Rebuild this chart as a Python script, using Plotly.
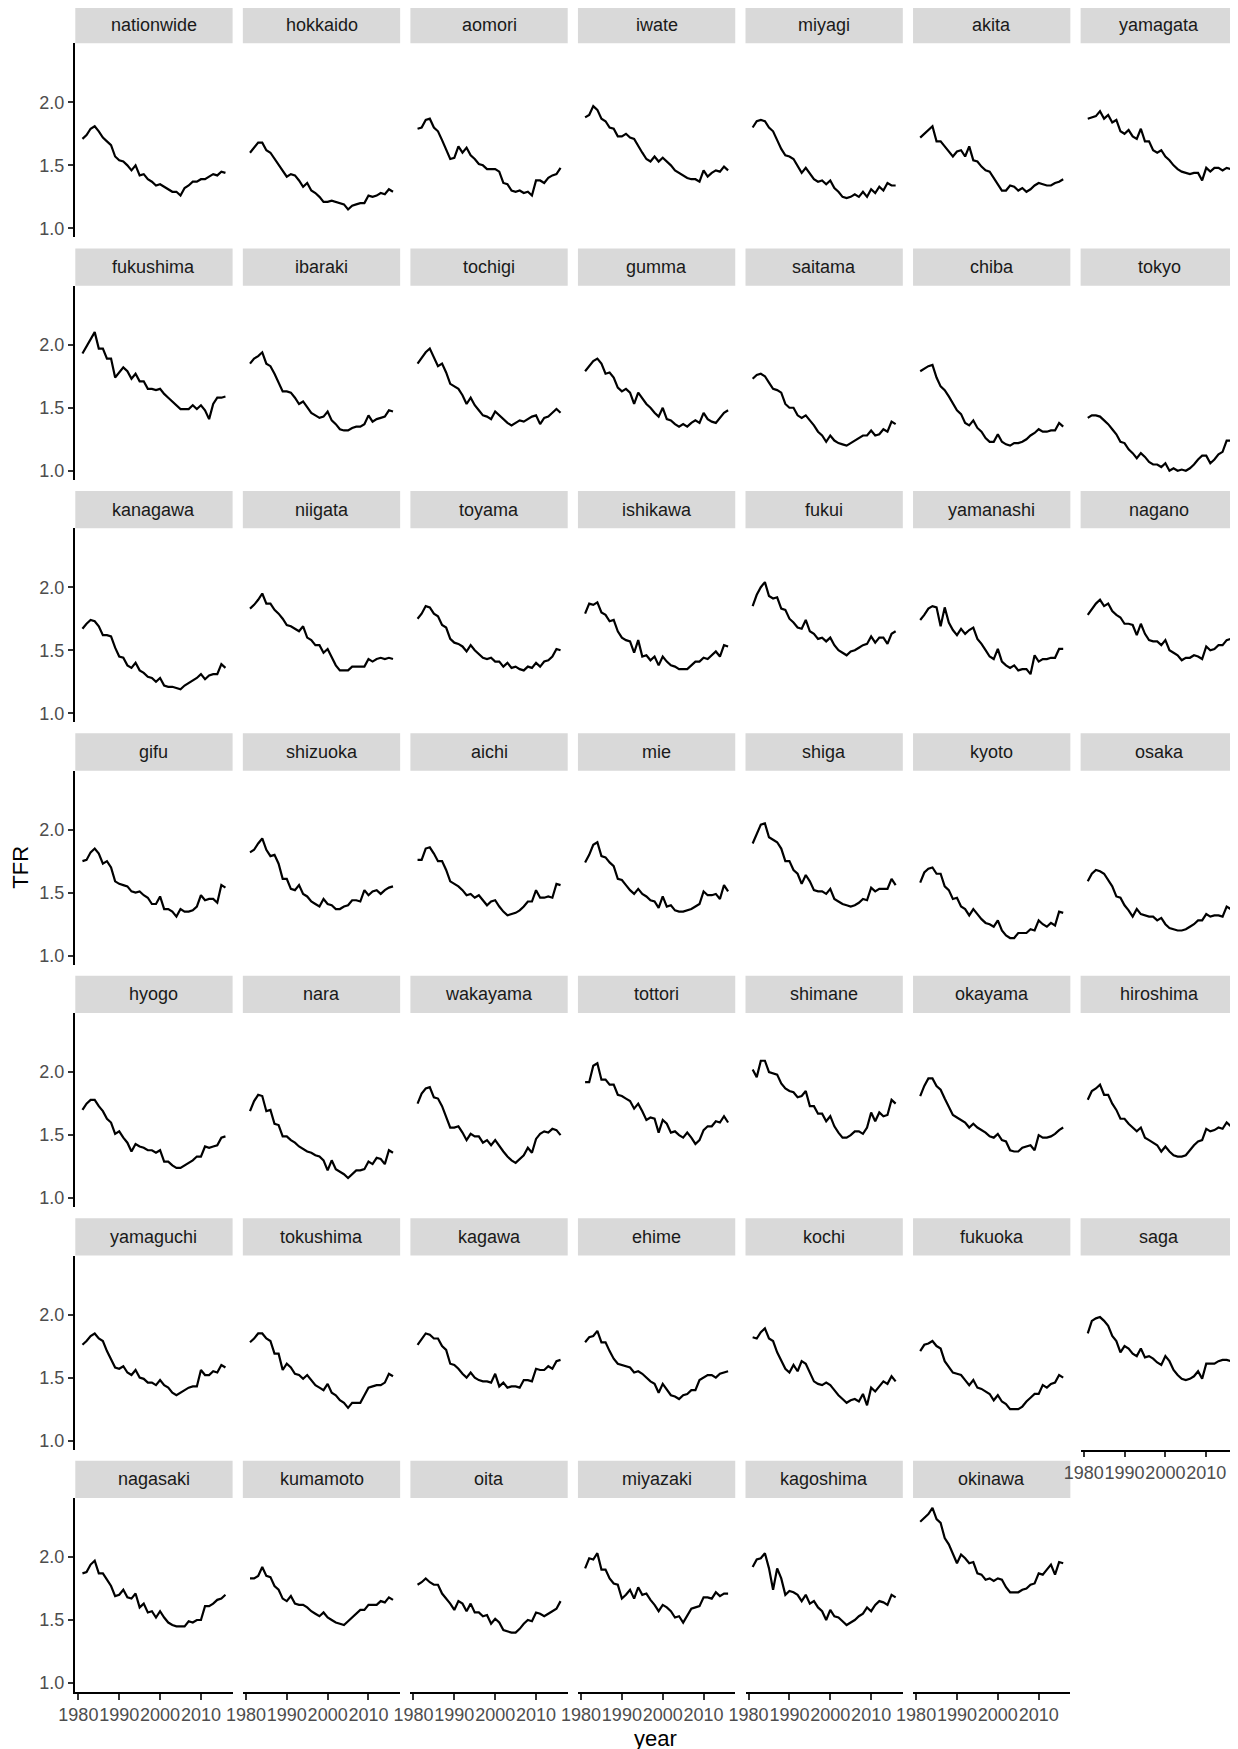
import plotly.graph_objects as go

years = list(range(1981, 2017))
x_ticks = [1980, 1990, 2000, 2010]
y_ticks = [1.0, 1.5, 2.0]
y_tick_text = ["1.0", "1.5", "2.0"]

nationwide = [1.71,1.74,1.79,1.81,1.77,1.72,1.69,1.66,1.57,1.54, 1.53,1.50,1.46,1.50,1.42,1.43,1.39,1.37,1.34,1.35, 1.33,1.31,1.29,1.29,1.26,1.32,1.34,1.37,1.37,1.39, 1.39,1.41,1.43,1.42,1.45,1.44]
hokkaido = [1.60,1.64,1.68,1.68,1.62,1.60,1.55,1.51,1.45,1.41, 1.43,1.42,1.38,1.33,1.36,1.30,1.28,1.25,1.21,1.21, 1.22,1.21,1.20,1.19,1.15,1.18,1.19,1.20,1.20,1.26, 1.25,1.26,1.28,1.27,1.31,1.29]
aomori = [1.79,1.80,1.86,1.87,1.80,1.77,1.70,1.62,1.55,1.56, 1.65,1.60,1.64,1.58,1.55,1.51,1.50,1.47,1.47,1.47, 1.45,1.36,1.35,1.30,1.29,1.30,1.28,1.29,1.26,1.38, 1.38,1.36,1.40,1.42,1.43,1.48]
iwate = [1.88,1.90,1.97,1.94,1.87,1.85,1.80,1.79,1.73,1.73, 1.75,1.72,1.71,1.65,1.60,1.55,1.53,1.57,1.53,1.56, 1.53,1.50,1.46,1.44,1.42,1.40,1.39,1.39,1.37,1.46, 1.41,1.44,1.46,1.45,1.49,1.46]
miyagi = [1.80,1.85,1.86,1.85,1.80,1.77,1.70,1.63,1.58,1.57, 1.55,1.50,1.44,1.48,1.43,1.39,1.37,1.38,1.35,1.38, 1.32,1.29,1.25,1.24,1.25,1.27,1.25,1.29,1.25,1.31, 1.28,1.33,1.30,1.36,1.34,1.34]
akita = [1.72,1.75,1.78,1.81,1.69,1.69,1.65,1.61,1.57,1.61, 1.62,1.57,1.65,1.54,1.53,1.49,1.46,1.45,1.40,1.34, 1.30,1.30,1.34,1.33,1.30,1.32,1.29,1.31,1.34,1.36, 1.35,1.34,1.34,1.36,1.37,1.39]
yamagata = [1.87,1.88,1.89,1.93,1.87,1.90,1.84,1.86,1.77,1.75, 1.78,1.73,1.71,1.79,1.69,1.69,1.62,1.60,1.62,1.57, 1.54,1.50,1.47,1.45,1.44,1.43,1.44,1.44,1.38,1.48, 1.45,1.48,1.48,1.46,1.48,1.47]
fukushima = [1.93,1.99,2.04,2.10,1.97,1.97,1.89,1.89,1.74,1.78, 1.82,1.79,1.73,1.77,1.71,1.71,1.65,1.65,1.64,1.65, 1.61,1.58,1.55,1.52,1.49,1.49,1.49,1.52,1.49,1.52, 1.48,1.41,1.53,1.58,1.58,1.59]
ibaraki = [1.85,1.89,1.91,1.94,1.85,1.83,1.77,1.70,1.63,1.63, 1.62,1.58,1.53,1.55,1.50,1.46,1.44,1.42,1.43,1.47, 1.40,1.37,1.33,1.32,1.32,1.34,1.35,1.35,1.37,1.44, 1.39,1.41,1.42,1.43,1.48,1.47]
tochigi = [1.85,1.90,1.94,1.97,1.90,1.83,1.85,1.78,1.69,1.67, 1.65,1.60,1.53,1.58,1.52,1.48,1.44,1.43,1.41,1.47, 1.44,1.41,1.38,1.36,1.38,1.40,1.39,1.41,1.43,1.44, 1.37,1.42,1.43,1.46,1.49,1.46]
gumma = [1.79,1.83,1.87,1.89,1.85,1.77,1.78,1.74,1.66,1.63, 1.65,1.62,1.53,1.62,1.57,1.53,1.50,1.46,1.43,1.50, 1.41,1.40,1.37,1.35,1.37,1.35,1.38,1.40,1.38,1.46, 1.41,1.39,1.38,1.42,1.46,1.48]
saitama = [1.73,1.76,1.77,1.75,1.70,1.65,1.64,1.62,1.53,1.50, 1.50,1.44,1.42,1.44,1.40,1.36,1.31,1.28,1.23,1.28, 1.24,1.22,1.21,1.20,1.22,1.24,1.26,1.28,1.28,1.32, 1.28,1.29,1.33,1.31,1.39,1.37]
chiba = [1.79,1.81,1.83,1.84,1.74,1.67,1.64,1.59,1.54,1.48, 1.45,1.38,1.36,1.40,1.34,1.31,1.26,1.23,1.23,1.29, 1.23,1.21,1.20,1.22,1.22,1.23,1.25,1.28,1.30,1.33, 1.31,1.31,1.32,1.32,1.38,1.35]
tokyo = [1.42,1.44,1.44,1.43,1.40,1.37,1.33,1.29,1.23,1.22, 1.17,1.14,1.10,1.14,1.11,1.07,1.05,1.05,1.03,1.06, 1.00,1.02,1.00,1.01,1.00,1.02,1.05,1.09,1.12,1.12, 1.06,1.09,1.13,1.15,1.24,1.24]
kanagawa = [1.67,1.71,1.74,1.73,1.69,1.62,1.62,1.61,1.52,1.45, 1.44,1.38,1.36,1.40,1.34,1.32,1.29,1.28,1.25,1.28, 1.22,1.21,1.21,1.20,1.19,1.22,1.24,1.26,1.28,1.31, 1.27,1.30,1.31,1.31,1.39,1.36]
niigata = [1.83,1.86,1.90,1.95,1.87,1.87,1.82,1.79,1.75,1.70, 1.69,1.67,1.65,1.69,1.60,1.58,1.54,1.54,1.48,1.51, 1.45,1.38,1.34,1.34,1.34,1.37,1.37,1.37,1.37,1.43, 1.41,1.43,1.44,1.43,1.44,1.43]
toyama = [1.75,1.79,1.85,1.84,1.79,1.77,1.70,1.68,1.59,1.56, 1.55,1.53,1.49,1.54,1.50,1.47,1.44,1.43,1.44,1.41, 1.41,1.37,1.40,1.36,1.37,1.35,1.34,1.37,1.36,1.40, 1.37,1.41,1.42,1.45,1.51,1.50]
ishikawa = [1.79,1.87,1.86,1.88,1.80,1.78,1.73,1.74,1.65,1.60, 1.58,1.57,1.48,1.58,1.45,1.46,1.42,1.45,1.38,1.45, 1.41,1.38,1.37,1.35,1.35,1.35,1.38,1.41,1.41,1.44, 1.43,1.46,1.49,1.45,1.54,1.53]
fukui = [1.85,1.94,2.00,2.04,1.93,1.91,1.92,1.83,1.82,1.75, 1.72,1.68,1.67,1.74,1.65,1.63,1.59,1.60,1.57,1.60, 1.54,1.50,1.48,1.46,1.49,1.50,1.52,1.54,1.55,1.61, 1.56,1.60,1.60,1.55,1.63,1.65]
yamanashi = [1.74,1.78,1.83,1.85,1.84,1.69,1.84,1.72,1.66,1.62, 1.67,1.63,1.66,1.68,1.59,1.55,1.50,1.45,1.43,1.51, 1.41,1.38,1.36,1.38,1.34,1.35,1.35,1.31,1.46,1.41, 1.43,1.43,1.44,1.44,1.51,1.51]
nagano = [1.78,1.83,1.87,1.90,1.85,1.87,1.81,1.78,1.76,1.71, 1.71,1.70,1.62,1.71,1.63,1.58,1.57,1.57,1.54,1.58, 1.50,1.48,1.46,1.42,1.44,1.44,1.46,1.45,1.43,1.53, 1.50,1.51,1.54,1.54,1.58,1.59]
gifu = [1.75,1.76,1.82,1.85,1.81,1.73,1.75,1.70,1.59,1.57, 1.56,1.55,1.51,1.50,1.51,1.48,1.46,1.41,1.41,1.47, 1.37,1.37,1.35,1.31,1.37,1.35,1.35,1.36,1.39,1.48, 1.44,1.45,1.45,1.42,1.56,1.54]
shizuoka = [1.82,1.84,1.89,1.93,1.84,1.79,1.80,1.73,1.61,1.61, 1.53,1.52,1.56,1.49,1.47,1.43,1.41,1.39,1.45,1.41, 1.40,1.37,1.37,1.39,1.40,1.44,1.44,1.43,1.52,1.48, 1.51,1.52,1.49,1.52,1.54,1.55]
aichi = [1.76,1.76,1.85,1.86,1.81,1.75,1.75,1.68,1.59,1.57, 1.55,1.52,1.48,1.49,1.46,1.48,1.44,1.40,1.43,1.44, 1.39,1.35,1.32,1.33,1.34,1.36,1.39,1.43,1.43,1.52, 1.46,1.46,1.47,1.46,1.57,1.56]
mie = [1.74,1.80,1.88,1.90,1.79,1.78,1.74,1.71,1.61,1.60, 1.56,1.52,1.49,1.53,1.49,1.47,1.44,1.43,1.38,1.47, 1.39,1.40,1.36,1.35,1.35,1.36,1.37,1.39,1.41,1.51, 1.48,1.48,1.49,1.45,1.56,1.51]
shiga = [1.89,1.96,2.04,2.05,1.94,1.92,1.90,1.85,1.75,1.75, 1.68,1.65,1.57,1.64,1.59,1.52,1.51,1.51,1.49,1.53, 1.45,1.43,1.41,1.40,1.39,1.40,1.42,1.45,1.44,1.54, 1.51,1.53,1.53,1.53,1.61,1.56]
kyoto = [1.58,1.66,1.69,1.70,1.65,1.65,1.55,1.52,1.45,1.46, 1.39,1.37,1.32,1.37,1.33,1.29,1.26,1.25,1.23,1.28, 1.20,1.16,1.14,1.14,1.18,1.18,1.18,1.21,1.20,1.28, 1.25,1.23,1.26,1.24,1.35,1.34]
osaka = [1.59,1.65,1.68,1.67,1.65,1.60,1.55,1.47,1.46,1.40, 1.36,1.31,1.37,1.33,1.32,1.31,1.31,1.28,1.30,1.25, 1.22,1.21,1.20,1.20,1.21,1.23,1.25,1.28,1.28,1.33, 1.31,1.32,1.32,1.31,1.39,1.37]
hyogo = [1.70,1.75,1.78,1.78,1.73,1.69,1.63,1.60,1.51,1.53, 1.48,1.44,1.37,1.43,1.41,1.40,1.38,1.38,1.36,1.38, 1.29,1.29,1.26,1.24,1.24,1.26,1.28,1.30,1.33,1.33, 1.41,1.40,1.41,1.42,1.48,1.49]
nara = [1.69,1.77,1.82,1.81,1.69,1.70,1.59,1.58,1.49,1.49, 1.46,1.44,1.41,1.39,1.37,1.36,1.34,1.33,1.30,1.22, 1.30,1.23,1.21,1.19,1.16,1.19,1.22,1.22,1.23,1.29, 1.27,1.32,1.31,1.27,1.38,1.36]
wakayama = [1.75,1.83,1.87,1.88,1.80,1.79,1.73,1.65,1.56,1.56, 1.57,1.52,1.46,1.51,1.49,1.49,1.44,1.46,1.42,1.46, 1.41,1.37,1.33,1.30,1.28,1.31,1.34,1.40,1.36,1.47, 1.51,1.53,1.52,1.55,1.54,1.50]
tottori = [1.92,1.92,2.05,2.07,1.94,1.94,1.90,1.90,1.82,1.81, 1.79,1.77,1.71,1.75,1.69,1.62,1.64,1.63,1.52,1.62, 1.59,1.52,1.53,1.50,1.48,1.52,1.48,1.43,1.46,1.54, 1.57,1.57,1.61,1.60,1.65,1.60]
shimane = [2.02,1.96,2.09,2.09,2.00,1.99,1.98,1.91,1.87,1.85, 1.84,1.80,1.81,1.85,1.73,1.73,1.67,1.67,1.61,1.65, 1.57,1.52,1.48,1.48,1.50,1.53,1.53,1.51,1.56,1.68, 1.61,1.68,1.65,1.66,1.78,1.75]
okayama = [1.81,1.89,1.95,1.95,1.89,1.86,1.79,1.73,1.66,1.64, 1.62,1.60,1.56,1.59,1.56,1.54,1.52,1.49,1.48,1.51, 1.46,1.45,1.38,1.37,1.37,1.40,1.41,1.42,1.38,1.50, 1.48,1.48,1.49,1.51,1.54,1.56]
hiroshima = [1.78,1.85,1.87,1.90,1.82,1.82,1.75,1.70,1.63,1.63, 1.59,1.56,1.53,1.56,1.48,1.46,1.44,1.42,1.37,1.41, 1.37,1.34,1.33,1.33,1.34,1.38,1.42,1.45,1.46,1.55, 1.53,1.54,1.56,1.55,1.60,1.57]
yamaguchi = [1.76,1.79,1.83,1.85,1.81,1.79,1.71,1.65,1.58,1.57, 1.59,1.54,1.52,1.56,1.50,1.49,1.46,1.46,1.44,1.48, 1.44,1.42,1.38,1.36,1.38,1.40,1.42,1.43,1.43,1.56, 1.52,1.52,1.55,1.54,1.60,1.58]
tokushima = [1.78,1.81,1.85,1.85,1.81,1.79,1.69,1.69,1.56,1.61, 1.58,1.53,1.52,1.49,1.52,1.48,1.44,1.42,1.40,1.45, 1.38,1.36,1.32,1.30,1.26,1.30,1.30,1.30,1.36,1.42, 1.43,1.44,1.44,1.46,1.53,1.51]
kagawa = [1.76,1.81,1.85,1.84,1.81,1.81,1.75,1.72,1.61,1.60, 1.57,1.53,1.50,1.54,1.50,1.48,1.47,1.47,1.46,1.53, 1.43,1.46,1.42,1.43,1.43,1.42,1.48,1.48,1.47,1.57, 1.56,1.56,1.59,1.57,1.63,1.64]
ehime = [1.78,1.82,1.83,1.87,1.78,1.78,1.71,1.65,1.61,1.60, 1.59,1.58,1.54,1.55,1.53,1.50,1.47,1.45,1.38,1.45, 1.40,1.36,1.35,1.33,1.36,1.37,1.40,1.40,1.48,1.50, 1.52,1.52,1.50,1.53,1.54,1.55]
kochi = [1.82,1.81,1.86,1.89,1.81,1.79,1.70,1.63,1.57,1.54, 1.60,1.55,1.63,1.61,1.54,1.47,1.45,1.44,1.46,1.44, 1.40,1.36,1.33,1.30,1.32,1.33,1.31,1.37,1.28,1.42, 1.39,1.43,1.47,1.45,1.51,1.47]
fukuoka = [1.71,1.76,1.77,1.79,1.75,1.73,1.63,1.58,1.54,1.53, 1.52,1.48,1.44,1.48,1.42,1.41,1.39,1.37,1.32,1.36, 1.31,1.29,1.25,1.25,1.25,1.27,1.31,1.34,1.37,1.37, 1.44,1.42,1.45,1.46,1.52,1.50]
saga = [1.85,1.95,1.97,1.98,1.95,1.91,1.83,1.79,1.70,1.75, 1.73,1.69,1.67,1.73,1.66,1.67,1.65,1.62,1.60,1.67, 1.63,1.56,1.52,1.49,1.48,1.49,1.51,1.55,1.49,1.61, 1.61,1.61,1.63,1.64,1.64,1.63]
nagasaki = [1.87,1.88,1.94,1.97,1.87,1.87,1.82,1.77,1.69,1.70, 1.74,1.68,1.67,1.71,1.60,1.63,1.56,1.57,1.52,1.57, 1.52,1.48,1.46,1.45,1.45,1.45,1.49,1.48,1.50,1.50, 1.61,1.61,1.63,1.66,1.67,1.70]
kumamoto = [1.83,1.83,1.85,1.92,1.85,1.84,1.77,1.74,1.67,1.65, 1.69,1.63,1.62,1.62,1.60,1.57,1.55,1.53,1.56,1.52, 1.50,1.48,1.47,1.46,1.49,1.52,1.55,1.58,1.58,1.62, 1.62,1.62,1.65,1.64,1.68,1.66]
oita = [1.78,1.80,1.83,1.80,1.78,1.78,1.71,1.67,1.63,1.58, 1.65,1.63,1.57,1.63,1.56,1.56,1.53,1.54,1.47,1.51, 1.48,1.42,1.41,1.40,1.40,1.43,1.47,1.50,1.49,1.56, 1.55,1.53,1.55,1.57,1.59,1.65]
miyazaki = [1.91,1.99,1.98,2.03,1.90,1.90,1.83,1.79,1.78,1.67, 1.70,1.74,1.67,1.76,1.70,1.71,1.66,1.62,1.57,1.62, 1.60,1.57,1.52,1.53,1.48,1.54,1.59,1.60,1.61,1.68, 1.68,1.67,1.72,1.69,1.71,1.71]
kagoshima = [1.92,1.98,1.99,2.03,1.91,1.74,1.91,1.83,1.70,1.73, 1.72,1.70,1.65,1.70,1.63,1.65,1.60,1.57,1.50,1.58, 1.53,1.52,1.49,1.46,1.48,1.50,1.53,1.55,1.60,1.57, 1.62,1.65,1.64,1.62,1.70,1.68]
okinawa = [2.28,2.31,2.34,2.39,2.30,2.27,2.15,2.10,2.02,1.95, 2.02,1.99,1.95,1.96,1.87,1.86,1.82,1.83,1.81,1.83, 1.82,1.76,1.72,1.72,1.72,1.74,1.75,1.78,1.79,1.87, 1.86,1.90,1.94,1.86,1.96,1.95]

panel_names = ["nationwide", "hokkaido", "aomori", "iwate", "miyagi", "akita", "yamagata",
               "fukushima", "ibaraki", "tochigi", "gumma", "saitama", "chiba", "tokyo",
               "kanagawa", "niigata", "toyama", "ishikawa", "fukui", "yamanashi", "nagano",
               "gifu", "shizuoka", "aichi", "mie", "shiga", "kyoto", "osaka",
               "hyogo", "nara", "wakayama", "tottori", "shimane", "okayama", "hiroshima",
               "yamaguchi", "tokushima", "kagawa", "ehime", "kochi", "fukuoka", "saga",
               "nagasaki", "kumamoto", "oita", "miyazaki", "kagoshima", "okinawa"]
panel_values = [nationwide, hokkaido, aomori, iwate, miyagi, akita, yamagata,
                fukushima, ibaraki, tochigi, gumma, saitama, chiba, tokyo,
                kanagawa, niigata, toyama, ishikawa, fukui, yamanashi, nagano,
                gifu, shizuoka, aichi, mie, shiga, kyoto, osaka,
                hyogo, nara, wakayama, tottori, shimane, okayama, hiroshima,
                yamaguchi, tokushima, kagawa, ehime, kochi, fukuoka, saga,
                nagasaki, kumamoto, oita, miyazaki, kagoshima, okinawa]

# ---- layout geometry (pixels, in page coordinates of the reference) ----
W, H = 1238, 1749
OFF = 8.0  # the page body margin shifts the figure by this much
NCOL = 7
COL0, CPITCH, PW = 75.3, 167.55, 157.3
STRIP0, RPITCH, STRIP_H, PH = 6.0, 242.45, 37.3, 194.0
X_RANGE = [1979.25, 2017.75]
Y_RANGE = [0.929, 2.468]
FONT = "Liberation Sans, Arial, Helvetica, sans-serif"


def px(x):
    return (x - OFF) / W


def py(y):
    return 1 - (y - OFF) / H


fig = go.Figure()
shapes, annotations = [], []
layout = {}

n = len(panel_names)
for p in range(n):
    r, c = divmod(p, NCOL)
    x0 = COL0 + c * CPITCH
    x1 = x0 + PW
    st = STRIP0 + r * RPITCH
    pt = st + STRIP_H
    pb = pt + PH
    bottom = (p + NCOL >= n)
    left = (c == 0)
    sfx = "" if p == 0 else str(p + 1)

    fig.add_trace(go.Scatter(x=years, y=panel_values[p], mode="lines",
                             line=dict(color="black", width=2.2),
                             xaxis="x" + sfx, yaxis="y" + sfx,
                             showlegend=False, hoverinfo="x+y"))

    layout["xaxis" + sfx] = dict(
        domain=[px(x0), min(px(x1), 1.0)], range=X_RANGE, anchor="y" + sfx,
        showgrid=False, zeroline=False, automargin=False,
        showline=bottom, linecolor="black", linewidth=2,
        ticks="outside" if bottom else "", ticklen=5.5, tickwidth=2, tickcolor="#333333",
        showticklabels=bottom, tickmode="array", tickvals=x_ticks,
        ticktext=[str(v) for v in x_ticks], tickangle=0,
        tickfont=dict(family=FONT, size=18, color="#4D4D4D"),
        fixedrange=True,
    )
    layout["yaxis" + sfx] = dict(
        domain=[py(pb), py(pt)], range=Y_RANGE, anchor="x" + sfx,
        showgrid=False, zeroline=False, automargin=False,
        showline=left, linecolor="black", linewidth=2,
        ticks="outside" if left else "", ticklen=5.5, tickwidth=2, tickcolor="#333333",
        showticklabels=left, tickmode="array", tickvals=y_ticks, ticktext=y_tick_text,
        tickfont=dict(family=FONT, size=18, color="#4D4D4D"),
        fixedrange=True,
    )

    shapes.append(dict(type="rect", xref="paper", yref="paper",
                       x0=px(x0), x1=px(x1), y0=py(pt), y1=py(st),
                       fillcolor="#D9D9D9", line=dict(width=0), layer="below"))
    annotations.append(dict(text=panel_names[p], xref="paper", yref="paper",
                            x=px((x0 + x1) / 2), y=py(st + STRIP_H / 2),
                            xanchor="center", yanchor="middle", showarrow=False,
                            font=dict(family=FONT, size=18, color="#1A1A1A")))

annotations.append(dict(text="TFR", xref="paper", yref="paper",
                        x=px(19.7), y=py(867), textangle=-90,
                        xanchor="center", yanchor="middle", showarrow=False,
                        font=dict(family=FONT, size=22, color="black")))
annotations.append(dict(text="year", xref="paper", yref="paper",
                        x=px(655), y=py(1738),
                        xanchor="center", yanchor="middle", showarrow=False,
                        font=dict(family=FONT, size=22, color="black")))

fig.update_layout(
    width=W, height=H,
    margin=dict(l=0, r=0, t=0, b=0, pad=0, autoexpand=False),
    paper_bgcolor="white", plot_bgcolor="white",
    showlegend=False,
    shapes=shapes, annotations=annotations,
    **layout,
)

fig.write_html("out.html")
